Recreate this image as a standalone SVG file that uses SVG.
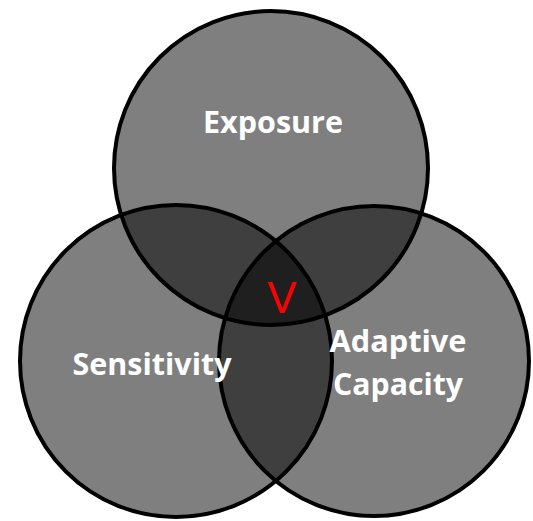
<svg xmlns="http://www.w3.org/2000/svg" width="533" height="521" viewBox="0 0 533 521">
<style>
.c{fill:#000;fill-opacity:0.5;stroke:#000;stroke-width:4}
.t{font-family:"Open Sans","Liberation Sans",sans-serif;font-weight:bold;fill:#fff;font-size:30px;text-anchor:middle}
.v{font-family:"Liberation Sans",sans-serif;fill:#ff0000;font-size:44px;text-anchor:middle}
</style>
<rect width="533" height="521" fill="#fff"/>
<g id="exposure"><circle class="c" cx="271" cy="168" r="157"/></g>
<g id="sensitivity"><circle class="c" cx="176" cy="361" r="156"/></g>
<g id="adaptive"><circle class="c" cx="374" cy="361" r="155"/></g>
<g id="labels">
<text class="t" x="273" y="133" textLength="140" lengthAdjust="spacingAndGlyphs">Exposure</text>
<text class="t" x="152" y="375" textLength="159" lengthAdjust="spacingAndGlyphs">Sensitivity</text>
<text class="t" x="398" y="352" textLength="137" lengthAdjust="spacingAndGlyphs">Adaptive</text>
<text class="t" x="398" y="395" textLength="130" lengthAdjust="spacingAndGlyphs">Capacity</text>
<text class="v" x="282" y="313">V</text>
</g>
</svg>
